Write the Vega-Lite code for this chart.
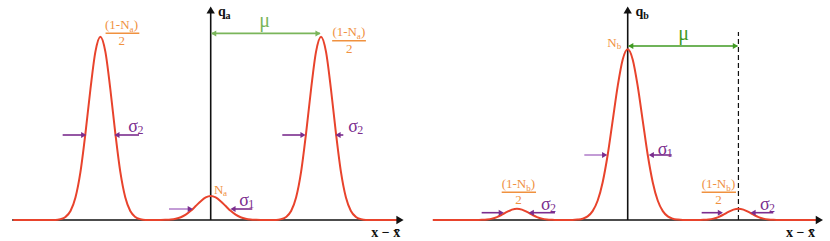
{
  "$schema": "https://vega.github.io/schema/vega-lite/v6.json",
  "padding": 0,
  "spacing": 0,
  "background": "white",
  "config": {"view": {"stroke": null}, "font": "Liberation Serif"},
  "resolve": {"scale": {"x": "independent", "y": "independent", "color": "independent", "size": "independent", "shape": "independent"}},
  "datasets": {
    "p1curve": [
      {"x": -1.79, "y": 0}, {"x": -1.407, "y": 0}, {"x": -1.362, "y": 0.0042}, {"x": -1.317, "y": 0.0149}, {"x": -1.271, "y": 0.0446}, {"x": -1.226, "y": 0.112}, {"x": -1.181, "y": 0.239}, {"x": -1.136, "y": 0.431}, {"x": -1.09, "y": 0.655}, {"x": -1.045, "y": 0.842}, {"x": -1, "y": 0.9165}, {"x": -0.955, "y": 0.842}, {"x": -0.91, "y": 0.655}, {"x": -0.864, "y": 0.431}, {"x": -0.819, "y": 0.239}, {"x": -0.774, "y": 0.112}, {"x": -0.729, "y": 0.0446}, {"x": -0.683, "y": 0.0149}, {"x": -0.638, "y": 0.0042}, {"x": -0.593, "y": 0},
      {"x": -0.452, "y": 0}, {"x": -0.407, "y": 0.0009}, {"x": -0.362, "y": 0.0025}, {"x": -0.317, "y": 0.0063}, {"x": -0.271, "y": 0.0137}, {"x": -0.226, "y": 0.0266}, {"x": -0.181, "y": 0.0457}, {"x": -0.136, "y": 0.0697}, {"x": -0.09, "y": 0.0943}, {"x": -0.045, "y": 0.113}, {"x": 0, "y": 0.12}, {"x": 0.045, "y": 0.113}, {"x": 0.09, "y": 0.0943}, {"x": 0.136, "y": 0.0697}, {"x": 0.181, "y": 0.0457}, {"x": 0.226, "y": 0.0266}, {"x": 0.271, "y": 0.0137}, {"x": 0.317, "y": 0.0063}, {"x": 0.362, "y": 0.0025}, {"x": 0.407, "y": 0.0009}, {"x": 0.452, "y": 0},
      {"x": 0.593, "y": 0}, {"x": 0.638, "y": 0.0042}, {"x": 0.683, "y": 0.0149}, {"x": 0.729, "y": 0.0446}, {"x": 0.774, "y": 0.112}, {"x": 0.819, "y": 0.239}, {"x": 0.864, "y": 0.431}, {"x": 0.91, "y": 0.655}, {"x": 0.955, "y": 0.842}, {"x": 1, "y": 0.9165}, {"x": 1.045, "y": 0.842}, {"x": 1.09, "y": 0.655}, {"x": 1.136, "y": 0.431}, {"x": 1.181, "y": 0.239}, {"x": 1.226, "y": 0.112}, {"x": 1.271, "y": 0.0446}, {"x": 1.317, "y": 0.0149}, {"x": 1.362, "y": 0.0042}, {"x": 1.407, "y": 0}, {"x": 1.70, "y": 0}
    ],
    "p1seg": [
      {"kind": "axis", "x": -1.80, "x2": 1.72, "y": 0, "y2": 0},
      {"kind": "axis", "x": 0, "x2": 0, "y": 0, "y2": 1.05},
      {"kind": "mu", "x": 0.01, "x2": 0.99, "y": 0.933, "y2": 0.933},
      {"kind": "sigma", "x": -1.342, "x2": -1.16, "y": 0.425, "y2": 0.425},
      {"kind": "sigma", "x": -0.85, "x2": -0.65, "y": 0.425, "y2": 0.425},
      {"kind": "sigma", "x": 0.649, "x2": 0.83, "y": 0.425, "y2": 0.425},
      {"kind": "sigma", "x": 1.16, "x2": 1.202, "y": 0.425, "y2": 0.425},
      {"kind": "sigmalight", "x": -0.378, "x2": -0.19, "y": 0.055, "y2": 0.055},
      {"kind": "sigma", "x": 0.2, "x2": 0.377, "y": 0.055, "y2": 0.055},
      {"kind": "frac", "x": -0.953, "x2": -0.647, "y": 0.9335, "y2": 0.9335},
      {"kind": "frac", "x": 1.101, "x2": 1.407, "y": 0.8965, "y2": 0.8965}
    ],
    "p1head": [
      {"kind": "axis", "dir": "right", "x": 1.716, "y": 0},
      {"kind": "axis", "dir": "up", "x": 0, "y": 1.05},
      {"kind": "mu", "dir": "left", "x": 0.027, "y": 0.933},
      {"kind": "mu", "dir": "right", "x": 0.973, "y": 0.933},
      {"kind": "sigma", "dir": "right", "x": -1.151, "y": 0.425},
      {"kind": "sigma", "dir": "left", "x": -0.85, "y": 0.425},
      {"kind": "sigma", "dir": "right", "x": 0.837, "y": 0.425},
      {"kind": "sigma", "dir": "left", "x": 1.154, "y": 0.425},
      {"kind": "sigma", "dir": "right", "x": -0.185, "y": 0.055},
      {"kind": "sigma", "dir": "left", "x": 0.202, "y": 0.055}
    ],
    "p1text": [
      {"kind": "mu", "role": "mu", "text": "μ", "x": 0.44, "y": 0.965},
      {"kind": "frac", "role": "main", "text": "(1-N", "x": -0.958, "y": 0.954},
      {"kind": "frac", "role": "sub", "text": "a", "x": -0.736, "y": 0.939},
      {"kind": "frac", "role": "main", "text": ")", "x": -0.698, "y": 0.954},
      {"kind": "frac", "role": "main", "text": "2", "x": -0.835, "y": 0.875},
      {"kind": "frac", "role": "main", "text": "(1-N", "x": 1.103, "y": 0.9225},
      {"kind": "frac", "role": "sub", "text": "a", "x": 1.325, "y": 0.9075},
      {"kind": "frac", "role": "main", "text": ")", "x": 1.363, "y": 0.9225},
      {"kind": "frac", "role": "main", "text": "2", "x": 1.226, "y": 0.835},
      {"kind": "frac", "role": "main", "text": "N", "x": 0.03, "y": 0.13},
      {"kind": "frac", "role": "sub", "text": "a", "x": 0.112, "y": 0.12},
      {"kind": "sigma", "role": "sym", "text": "σ", "x": -0.747, "y": 0.44},
      {"kind": "sigma", "role": "digit", "text": "2", "x": -0.664, "y": 0.43},
      {"kind": "sigma", "role": "sym", "text": "σ", "x": 1.248, "y": 0.44},
      {"kind": "sigma", "role": "digit", "text": "2", "x": 1.329, "y": 0.43},
      {"kind": "sigma", "role": "sym", "text": "σ", "x": 0.259, "y": 0.0715},
      {"kind": "sigma", "role": "digit", "text": "1", "x": 0.341, "y": 0.0615}
    ],
    "p1axistext": [
      {"role": "amain", "text": "q", "x": 0.066, "y": 1.02},
      {"role": "asub", "text": "a", "x": 0.135, "y": 1.006},
      {"role": "amain", "text": "x − x̄", "x": 1.455, "y": -0.085}
    ],
    "p2curve": [
      {"x": -1.76, "y": 0}, {"x": -1.362, "y": 0}, {"x": -1.317, "y": 0.0009}, {"x": -1.271, "y": 0.0028}, {"x": -1.226, "y": 0.0069}, {"x": -1.181, "y": 0.0147}, {"x": -1.136, "y": 0.0266}, {"x": -1.09, "y": 0.0404}, {"x": -1.045, "y": 0.0519}, {"x": -1, "y": 0.0565}, {"x": -0.955, "y": 0.0519}, {"x": -0.91, "y": 0.0404}, {"x": -0.864, "y": 0.0266}, {"x": -0.819, "y": 0.0147}, {"x": -0.774, "y": 0.0069}, {"x": -0.729, "y": 0.0028}, {"x": -0.683, "y": 0.0009}, {"x": -0.638, "y": 0},
      {"x": -0.498, "y": 0}, {"x": -0.452, "y": 0.002}, {"x": -0.407, "y": 0.0065}, {"x": -0.362, "y": 0.018}, {"x": -0.317, "y": 0.0444}, {"x": -0.271, "y": 0.0973}, {"x": -0.226, "y": 0.189}, {"x": -0.181, "y": 0.325}, {"x": -0.136, "y": 0.496}, {"x": -0.09, "y": 0.671}, {"x": -0.045, "y": 0.803}, {"x": 0, "y": 0.8535}, {"x": 0.045, "y": 0.803}, {"x": 0.09, "y": 0.671}, {"x": 0.136, "y": 0.496}, {"x": 0.181, "y": 0.325}, {"x": 0.226, "y": 0.189}, {"x": 0.271, "y": 0.0973}, {"x": 0.317, "y": 0.0444}, {"x": 0.362, "y": 0.018}, {"x": 0.407, "y": 0.0065}, {"x": 0.452, "y": 0.002}, {"x": 0.498, "y": 0},
      {"x": 0.638, "y": 0}, {"x": 0.683, "y": 0.0009}, {"x": 0.729, "y": 0.0028}, {"x": 0.774, "y": 0.0069}, {"x": 0.819, "y": 0.0147}, {"x": 0.864, "y": 0.0266}, {"x": 0.91, "y": 0.0404}, {"x": 0.955, "y": 0.0519}, {"x": 1, "y": 0.0565}, {"x": 1.045, "y": 0.0519}, {"x": 1.09, "y": 0.0404}, {"x": 1.136, "y": 0.0266}, {"x": 1.181, "y": 0.0147}, {"x": 1.226, "y": 0.0069}, {"x": 1.271, "y": 0.0028}, {"x": 1.317, "y": 0.0009}, {"x": 1.362, "y": 0}, {"x": 1.70, "y": 0}
    ],
    "p2seg": [
      {"kind": "axis", "x": -1.759, "x2": 1.735, "y": 0, "y2": 0},
      {"kind": "axis", "x": 0, "x2": 0, "y": 0, "y2": 1.05},
      {"kind": "mu", "x": 0.01, "x2": 0.99, "y": 0.87, "y2": 0.87},
      {"kind": "sigmalight", "x": -0.392, "x2": -0.21, "y": 0.325, "y2": 0.325},
      {"kind": "sigma", "x": 0.21, "x2": 0.397, "y": 0.325, "y2": 0.325},
      {"kind": "sigma", "x": -1.319, "x2": -1.15, "y": 0.0365, "y2": 0.0365},
      {"kind": "sigma", "x": -0.87, "x2": -0.657, "y": 0.0365, "y2": 0.0365},
      {"kind": "sigma", "x": 0.668, "x2": 0.83, "y": 0.0365, "y2": 0.0365},
      {"kind": "sigma", "x": 1.13, "x2": 1.315, "y": 0.0365, "y2": 0.0365},
      {"kind": "frac", "x": -1.138, "x2": -0.828, "y": 0.1385, "y2": 0.1385},
      {"kind": "frac", "x": 0.668, "x2": 0.978, "y": 0.1385, "y2": 0.1385}
    ],
    "p2dash": [
      {"x": 1, "x2": 1, "y": 0, "y2": 0.94}
    ],
    "p2head": [
      {"kind": "axis", "dir": "right", "x": 1.731, "y": 0},
      {"kind": "axis", "dir": "up", "x": 0, "y": 1.05},
      {"kind": "mu", "dir": "left", "x": 0.027, "y": 0.87},
      {"kind": "mu", "dir": "right", "x": 0.973, "y": 0.87},
      {"kind": "sigma", "dir": "right", "x": -0.208, "y": 0.325},
      {"kind": "sigma", "dir": "left", "x": 0.213, "y": 0.325},
      {"kind": "sigma", "dir": "right", "x": -1.142, "y": 0.0365},
      {"kind": "sigma", "dir": "left", "x": -0.871, "y": 0.0365},
      {"kind": "sigma", "dir": "right", "x": 0.837, "y": 0.0365},
      {"kind": "sigma", "dir": "left", "x": 1.132, "y": 0.0365}
    ],
    "p2text": [
      {"kind": "mu", "role": "mu", "text": "μ", "x": 0.456, "y": 0.9025},
      {"kind": "frac", "role": "main", "text": "N", "x": -0.185, "y": 0.8675},
      {"kind": "frac", "role": "sub", "text": "b", "x": -0.098, "y": 0.855},
      {"kind": "frac", "role": "main", "text": "(1-N", "x": -1.138, "y": 0.16},
      {"kind": "frac", "role": "sub", "text": "b", "x": -0.916, "y": 0.145},
      {"kind": "frac", "role": "main", "text": ")", "x": -0.876, "y": 0.16},
      {"kind": "frac", "role": "main", "text": "2", "x": -1.015, "y": 0.08},
      {"kind": "frac", "role": "main", "text": "(1-N", "x": 0.668, "y": 0.16},
      {"kind": "frac", "role": "sub", "text": "b", "x": 0.89, "y": 0.145},
      {"kind": "frac", "role": "main", "text": ")", "x": 0.932, "y": 0.16},
      {"kind": "frac", "role": "main", "text": "2", "x": 0.791, "y": 0.08},
      {"kind": "sigma", "role": "sym", "text": "σ", "x": 0.271, "y": 0.325},
      {"kind": "sigma", "role": "digit", "text": "1", "x": 0.352, "y": 0.315},
      {"kind": "sigma", "role": "sym", "text": "σ", "x": -0.783, "y": 0.05},
      {"kind": "sigma", "role": "digit", "text": "2", "x": -0.702, "y": 0.04},
      {"kind": "sigma", "role": "sym", "text": "σ", "x": 1.195, "y": 0.05},
      {"kind": "sigma", "role": "digit", "text": "2", "x": 1.277, "y": 0.04}
    ],
    "p2axistext": [
      {"role": "amain", "text": "q", "x": 0.07, "y": 1.02},
      {"role": "asub", "text": "b", "x": 0.14, "y": 1.006},
      {"role": "amain", "text": "x − x̄", "x": 1.43, "y": -0.085}
    ]
  },
  "hconcat": [
    {
      "width": 415,
      "height": 241,
      "encoding": {
        "x": {"field": "x", "type": "quantitative", "scale": {"domain": [-1.910, 1.852], "nice": false, "zero": false}, "axis": null},
        "y": {"field": "y", "type": "quantitative", "scale": {"domain": [-0.105, 1.1], "nice": false, "zero": false}, "axis": null}
      },
      "layer": [
        {
          "data": {"name": "p1seg"},
          "mark": {"type": "rule", "strokeWidth": 1.6},
          "encoding": {
            "x2": {"field": "x2"},
            "y2": {"field": "y2"},
            "color": {"field": "kind", "type": "nominal", "legend": null, "scale": {"domain": ["axis", "mu", "frac", "sigma", "sigmalight"], "range": ["#111111", "#7ab55a", "#f0913f", "#7b2d8e", "#b584cc"]}}
          }
        },
        {
          "data": {"name": "p1curve"},
          "mark": {"type": "line", "interpolate": "monotone", "color": "#e8432c", "strokeWidth": 2},
          "encoding": {}
        },
        {
          "data": {"name": "p1head"},
          "transform": [{"filter": "datum.kind == 'axis'"}],
          "mark": {"type": "point", "filled": true, "opacity": 1, "size": 70},
          "encoding": {
            "shape": {"field": "dir", "type": "nominal", "legend": null, "scale": {"domain": ["right", "left", "up"], "range": ["triangle-right", "triangle-left", "triangle-up"]}},
            "color": {"field": "kind", "type": "nominal", "legend": null, "scale": {"domain": ["axis", "mu", "frac", "sigma", "sigmalight"], "range": ["#111111", "#7ab55a", "#f0913f", "#7b2d8e", "#b584cc"]}}
          }
        },
        {
          "data": {"name": "p1head"},
          "transform": [{"filter": "datum.kind != 'axis'"}],
          "mark": {"type": "point", "filled": true, "opacity": 1, "size": 36},
          "encoding": {
            "shape": {"field": "dir", "type": "nominal", "legend": null, "scale": {"domain": ["right", "left", "up"], "range": ["triangle-right", "triangle-left", "triangle-up"]}},
            "color": {"field": "kind", "type": "nominal", "legend": null, "scale": {"domain": ["axis", "mu", "frac", "sigma", "sigmalight"], "range": ["#111111", "#7ab55a", "#f0913f", "#7b2d8e", "#b584cc"]}}
          }
        },
        {
          "data": {"name": "p1text"},
          "mark": {"type": "text", "align": "left", "baseline": "alphabetic", "font": "Liberation Serif"},
          "encoding": {
            "text": {"field": "text"},
            "size": {"field": "role", "type": "ordinal", "legend": null, "scale": {"type": "ordinal", "domain": ["sym", "mu", "main", "digit", "sub", "amain", "asub"], "range": [18, 20, 13, 12, 9, 14, 10]}},
            "color": {"field": "kind", "type": "nominal", "legend": null, "scale": {"domain": ["axis", "mu", "frac", "sigma", "sigmalight"], "range": ["#111111", "#7ab55a", "#f0913f", "#7b2d8e", "#b584cc"]}}
          }
        },
        {
          "data": {"name": "p1axistext"},
          "mark": {"type": "text", "align": "left", "baseline": "alphabetic", "font": "Liberation Serif", "fontWeight": "bold", "color": "#111111"},
          "encoding": {
            "text": {"field": "text"},
            "size": {"field": "role", "type": "ordinal", "legend": null, "scale": {"type": "ordinal", "domain": ["sym", "mu", "main", "digit", "sub", "amain", "asub"], "range": [18, 20, 13, 12, 9, 14, 10]}}
          }
        }
      ]
    },
    {
      "width": 415,
      "height": 241,
      "encoding": {
        "x": {"field": "x", "type": "quantitative", "scale": {"domain": [-1.921, 1.827], "nice": false, "zero": false}, "axis": null},
        "y": {"field": "y", "type": "quantitative", "scale": {"domain": [-0.105, 1.1], "nice": false, "zero": false}, "axis": null}
      },
      "layer": [
        {
          "data": {"name": "p2seg"},
          "mark": {"type": "rule", "strokeWidth": 1.6},
          "encoding": {
            "x2": {"field": "x2"},
            "y2": {"field": "y2"},
            "color": {"field": "kind", "type": "nominal", "legend": null, "scale": {"domain": ["axis", "mu", "frac", "sigma", "sigmalight"], "range": ["#111111", "#3f9a22", "#f0913f", "#7b2d8e", "#b584cc"]}}
          }
        },
        {
          "data": {"name": "p2dash"},
          "mark": {"type": "rule", "strokeWidth": 1.2, "color": "#111111", "strokeDash": [5, 3]},
          "encoding": {
            "x2": {"field": "x2"},
            "y2": {"field": "y2"}
          }
        },
        {
          "data": {"name": "p2curve"},
          "mark": {"type": "line", "interpolate": "monotone", "color": "#e8432c", "strokeWidth": 2},
          "encoding": {}
        },
        {
          "data": {"name": "p2head"},
          "transform": [{"filter": "datum.kind == 'axis'"}],
          "mark": {"type": "point", "filled": true, "opacity": 1, "size": 70},
          "encoding": {
            "shape": {"field": "dir", "type": "nominal", "legend": null, "scale": {"domain": ["right", "left", "up"], "range": ["triangle-right", "triangle-left", "triangle-up"]}},
            "color": {"field": "kind", "type": "nominal", "legend": null, "scale": {"domain": ["axis", "mu", "frac", "sigma", "sigmalight"], "range": ["#111111", "#3f9a22", "#f0913f", "#7b2d8e", "#b584cc"]}}
          }
        },
        {
          "data": {"name": "p2head"},
          "transform": [{"filter": "datum.kind != 'axis'"}],
          "mark": {"type": "point", "filled": true, "opacity": 1, "size": 36},
          "encoding": {
            "shape": {"field": "dir", "type": "nominal", "legend": null, "scale": {"domain": ["right", "left", "up"], "range": ["triangle-right", "triangle-left", "triangle-up"]}},
            "color": {"field": "kind", "type": "nominal", "legend": null, "scale": {"domain": ["axis", "mu", "frac", "sigma", "sigmalight"], "range": ["#111111", "#3f9a22", "#f0913f", "#7b2d8e", "#b584cc"]}}
          }
        },
        {
          "data": {"name": "p2text"},
          "mark": {"type": "text", "align": "left", "baseline": "alphabetic", "font": "Liberation Serif"},
          "encoding": {
            "text": {"field": "text"},
            "size": {"field": "role", "type": "ordinal", "legend": null, "scale": {"type": "ordinal", "domain": ["sym", "mu", "main", "digit", "sub", "amain", "asub"], "range": [18, 20, 13, 12, 9, 14, 10]}},
            "color": {"field": "kind", "type": "nominal", "legend": null, "scale": {"domain": ["axis", "mu", "frac", "sigma", "sigmalight"], "range": ["#111111", "#3f9a22", "#f0913f", "#7b2d8e", "#b584cc"]}}
          }
        },
        {
          "data": {"name": "p2axistext"},
          "mark": {"type": "text", "align": "left", "baseline": "alphabetic", "font": "Liberation Serif", "fontWeight": "bold", "color": "#111111"},
          "encoding": {
            "text": {"field": "text"},
            "size": {"field": "role", "type": "ordinal", "legend": null, "scale": {"type": "ordinal", "domain": ["sym", "mu", "main", "digit", "sub", "amain", "asub"], "range": [18, 20, 13, 12, 9, 14, 10]}}
          }
        }
      ]
    }
  ]
}
